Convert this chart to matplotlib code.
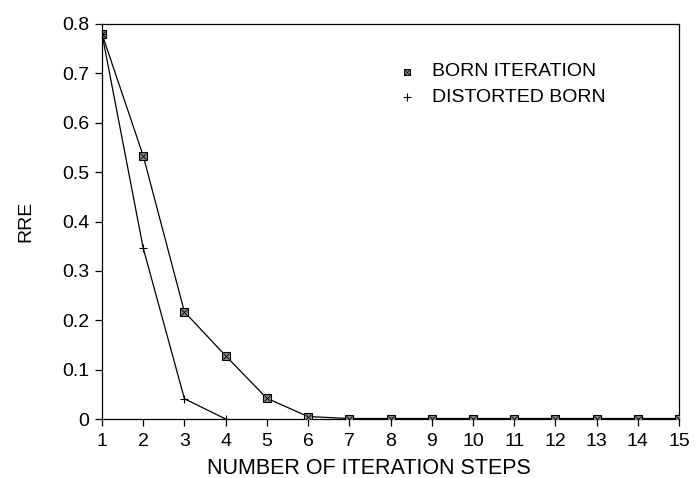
import matplotlib
matplotlib.use("Agg")
import matplotlib.pyplot as plt

plt.rcParams['font.family'] = ['Liberation Sans', 'DejaVu Sans']

# valeurs
etapes_born = [1, 2, 3, 4, 5, 6, 7, 8, 9, 10, 11, 12, 13, 14, 15]
rre_born = [0.78, 0.533, 0.217, 0.128, 0.042, 0.005, 0.001, 0.001, 0.001,
            0.001, 0.001, 0.001, 0.001, 0.001, 0.001]

etapes_distorted = [1, 2, 3, 4]
rre_distorted = [0.78, 0.346, 0.041, 0.0]

xticks = list(range(1, 16))
yticks = [0, 0.1, 0.2, 0.3, 0.4, 0.5, 0.6, 0.7, 0.8]

fig = plt.figure(figsize=(6.96, 4.78), dpi=100)
ax = fig.add_axes([102 / 696, 1 - 419 / 478, 577 / 696, 395 / 478])

# Born iteration : carre grise avec croix
ax.plot(etapes_born, rre_born, color='black', lw=0.9, marker='s', ms=6,
        mfc='#888888', mec='black', mew=0.8, zorder=3)
ax.plot(etapes_born, rre_born, ls='none', marker='x', ms=4.5, color='black',
        mew=0.6, zorder=4)

# Distorted Born : croix +
ax.plot(etapes_distorted, rre_distorted, color='black', lw=0.9, marker='+',
        ms=6, mew=0.8, zorder=3)

ax.set_xlim(1, 15)
ax.set_ylim(0, 0.8)
ax.set_xticks(xticks)
ax.set_yticks(yticks)
ax.set_yticklabels(['0', '0.1', '0.2', '0.3', '0.4', '0.5', '0.6', '0.7', '0.8'])
ax.tick_params(direction='out', length=5, width=0.9, labelsize=14)
ax.tick_params(axis='x', pad=5)
ax.tick_params(axis='y', pad=4)
for s in ax.spines.values():
    s.set_linewidth(0.9)

ax.set_xlabel("NUMBER OF ITERATION STEPS", fontsize=15.5)
ax.xaxis.set_label_coords(0.463, -0.098)
ax.set_ylabel("RRE", fontsize=14, labelpad=20)

# legende faite a la main
ax.plot([8.4], [0.703], ls='none', marker='s', ms=5,
        mfc='#888888', mec='black', mew=0.7)
ax.plot([8.4], [0.703], ls='none', marker='x', ms=4, color='black', mew=0.5)
ax.plot([8.4], [0.652], ls='none', marker='+', ms=5.5, color='black', mew=0.8)
ax.text(9.0, 0.703, "BORN ITERATION", fontsize=14, va='center')
ax.text(9.0, 0.652, "DISTORTED BORN", fontsize=14, va='center')

fig.savefig("out.png", dpi=100)
